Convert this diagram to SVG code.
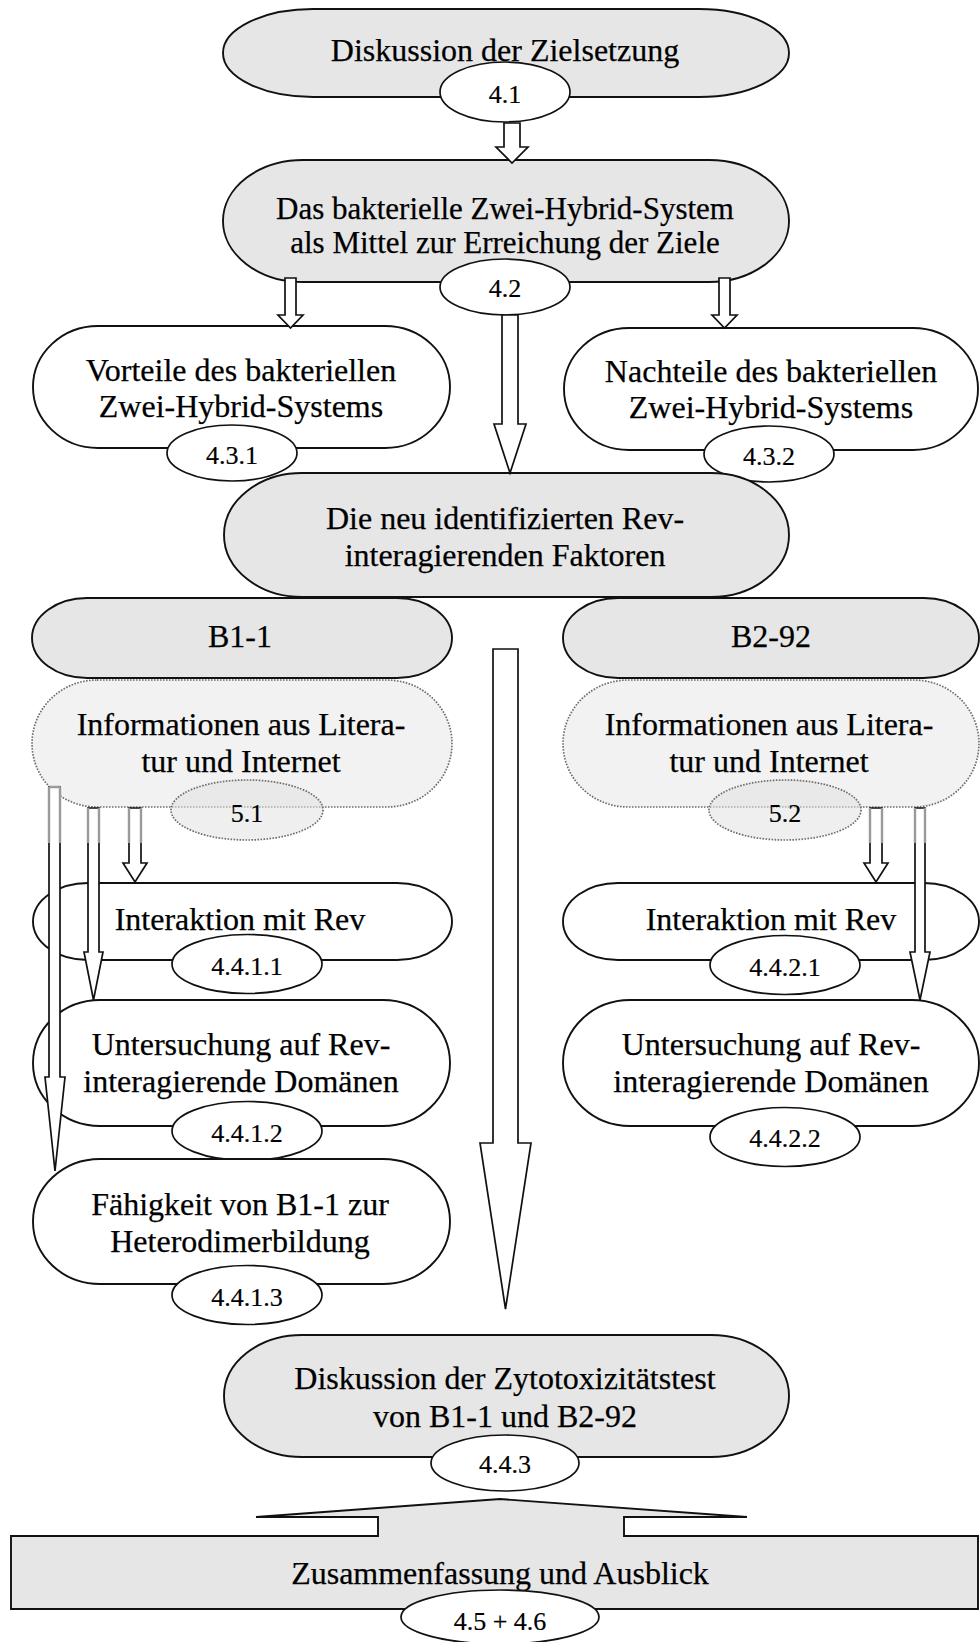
<svg xmlns="http://www.w3.org/2000/svg" width="980" height="1642" viewBox="0 0 980 1642">
<defs>
<style>
.t{font-family:"Liberation Serif","Times New Roman",serif;font-size:32px;fill:#000;stroke:#000;stroke-width:0.25;text-anchor:middle}
.s{font-size:31px}
.n{font-family:"Liberation Serif","Times New Roman",serif;font-size:26px;fill:#000;stroke:#000;stroke-width:0.2;text-anchor:middle}
.g{fill:#e6e6e6;stroke:#111;stroke-width:1.9}
.w{fill:#fff;stroke:#111;stroke-width:1.9}
.d{fill:#f2f2f2;stroke:#6e6e6e;stroke-width:1.7;stroke-dasharray:1.6 1.4}
.lab{fill:#fff;stroke:#111;stroke-width:1.7}
.dl{fill:#e2e2e2;fill-opacity:.55;stroke:#6e6e6e;stroke-width:1.7;stroke-dasharray:1.6 1.4}
.ar{fill:#fff;stroke:#111;stroke-width:1.7;stroke-linejoin:miter}
.fade{stroke:#9a9a9a;stroke-width:2.4}
</style>
</defs>
<rect width="980" height="1642" fill="#fff"/>

<g id="n-zielsetzung">
<rect class="g" x="223" y="9" width="566" height="88" rx="90" ry="44"/>
<text class="t" x="505" y="61">Diskussion der Zielsetzung</text>
<ellipse class="lab" cx="505" cy="92" rx="65" ry="30"/>
<text class="n" x="505" y="103">4.1</text>
</g>

<g id="n-system">
<rect class="g" x="223" y="160" width="566" height="122" rx="80" ry="61"/>
<text class="t s" x="505" y="219">Das bakterielle Zwei-Hybrid-System</text>
<text class="t s" x="505" y="253">als Mittel zur Erreichung der Ziele</text>
<ellipse class="lab" cx="505" cy="287" rx="65" ry="28"/>
<text class="n" x="505" y="297">4.2</text>
</g>

<g id="n-vorteile">
<rect class="w" x="33" y="326" width="417" height="122" rx="65" ry="61"/>
<text class="t" x="241" y="381">Vorteile des bakteriellen</text>
<text class="t" x="241" y="417">Zwei-Hybrid-Systems</text>
<ellipse class="lab" cx="232" cy="453" rx="65" ry="28"/>
<text class="n" x="232" y="464">4.3.1</text>
</g>

<g id="n-nachteile">
<rect class="w" x="564" y="328" width="414" height="122" rx="65" ry="61"/>
<text class="t" x="771" y="382">Nachteile des bakteriellen</text>
<text class="t" x="771" y="418">Zwei-Hybrid-Systems</text>
<ellipse class="lab" cx="769" cy="454" rx="65" ry="28"/>
<text class="n" x="769" y="465">4.3.2</text>
</g>

<g id="n-faktoren">
<rect class="g" x="224" y="473" width="565" height="124" rx="78" ry="62"/>
<text class="t" x="505" y="529">Die neu identifizierten Rev-</text>
<text class="t" x="505" y="566">interagierenden Faktoren</text>
</g>

<g id="n-b1">
<rect class="g" x="32" y="598" width="420" height="80" rx="55" ry="40"/>
<text class="t" x="240" y="647">B1-1</text>
</g>

<g id="n-b2">
<rect class="g" x="563" y="598" width="416" height="80" rx="55" ry="40"/>
<text class="t" x="771" y="647">B2-92</text>
</g>

<g id="n-info1">
<rect class="d" x="32" y="680" width="420" height="127" rx="65" ry="63.5"/>
<text class="t" x="241" y="735">Informationen aus Litera-</text>
<text class="t" x="241" y="772">tur und Internet</text>
<ellipse class="dl" cx="247" cy="810" rx="76" ry="30"/>
<text class="n" x="247" y="822">5.1</text>
</g>

<g id="n-info2">
<rect class="d" x="563" y="680" width="416" height="127" rx="65" ry="63.5"/>
<text class="t" x="769" y="735">Informationen aus Litera-</text>
<text class="t" x="769" y="772">tur und Internet</text>
<ellipse class="dl" cx="785" cy="810" rx="76" ry="30"/>
<text class="n" x="785" y="822">5.2</text>
</g>

<g id="n-interaktion1">
<rect class="w" x="33" y="883" width="419" height="77" rx="55" ry="38.5"/>
<text class="t" x="240" y="930">Interaktion mit Rev</text>
<ellipse class="lab" cx="247" cy="964" rx="75" ry="29.5"/>
<text class="n" x="247" y="975">4.4.1.1</text>
</g>

<g id="n-domaenen1">
<rect class="w" x="33" y="1000" width="417" height="126" rx="67" ry="63"/>
<text class="t" x="241" y="1055">Untersuchung auf Rev-</text>
<text class="t" x="241" y="1092">interagierende Domänen</text>
<ellipse class="lab" cx="247" cy="1131" rx="75" ry="29.5"/>
<text class="n" x="247" y="1142">4.4.1.2</text>
</g>

<g id="n-heterodimer">
<rect class="w" x="33" y="1159" width="417" height="125" rx="67" ry="62.5"/>
<text class="t" x="240" y="1215">Fähigkeit von B1-1 zur</text>
<text class="t" x="240" y="1252">Heterodimerbildung</text>
<ellipse class="lab" cx="247" cy="1295" rx="75" ry="29.5"/>
<text class="n" x="247" y="1306">4.4.1.3</text>
</g>

<g id="n-interaktion2">
<rect class="w" x="563" y="883" width="416" height="77" rx="55" ry="38.5"/>
<text class="t" x="771" y="930">Interaktion mit Rev</text>
<ellipse class="lab" cx="785" cy="965" rx="75" ry="29.5"/>
<text class="n" x="785" y="976">4.4.2.1</text>
</g>

<g id="n-domaenen2">
<rect class="w" x="563" y="1000" width="416" height="126" rx="67" ry="63"/>
<text class="t" x="771" y="1055">Untersuchung auf Rev-</text>
<text class="t" x="771" y="1092">interagierende Domänen</text>
<ellipse class="lab" cx="785" cy="1137" rx="75" ry="29.5"/>
<text class="n" x="785" y="1147">4.4.2.2</text>
</g>

<g id="n-zytotox">
<rect class="g" x="224" y="1335" width="565" height="122" rx="78" ry="61"/>
<text class="t" x="505" y="1389">Diskussion der Zytotoxizitätstest</text>
<text class="t" x="505" y="1427">von B1-1 und B2-92</text>
<ellipse class="lab" cx="505" cy="1463" rx="74" ry="28"/>
<text class="n" x="505" y="1473">4.4.3</text>
</g>

<g id="n-ausblick">
<path class="g" d="M11,1536 H378 V1517 H256 L500,1499 L747,1517 H624 V1536 H978 V1609 H11 Z"/>
<text class="t" x="500" y="1584">Zusammenfassung und Ausblick</text>
<ellipse class="lab" cx="500" cy="1617" rx="99" ry="27"/>
<text class="n" x="500" y="1630">4.5 + 4.6</text>
</g>

<g id="connectors">
<!-- block arrows: shaft, shoulders, tip -->
<polygon class="ar" points="504,123 520,123 520,147 528,147 512,163 496,147 504,147"/>
<polygon class="ar" points="285,278 296,278 296,315 303,315 290.5,328 278,315 285,315"/>
<polygon class="ar" points="719,278 730,278 730,315 737,315 724.5,328 712,315 719,315"/>
<polygon class="ar" points="502,315 518,315 518,424 526,424 510,473 494,424 502,424"/>
<polygon class="ar" points="493,649 518,649 518,1143 531,1143 505.5,1309 480,1143 493,1143"/>
<polygon class="ar" points="129,808 141,808 141,863 147,863 135,882 123,863 129,863"/>
<polygon class="ar" points="88,808 99,808 99,952 103,952 93.5,1000 84,952 88,952"/>
<polygon class="ar" points="49,787 60,787 60,1077 65,1077 55,1171 45,1077 49,1077"/>
<polygon class="ar" points="870,808 882,808 882,863 888,863 876,882 864,863 870,863"/>
<polygon class="ar" points="915,808 925,808 925,952 930,952 920,1000 910,952 915,952"/>
<!-- softened upper shaft edges below the information boxes -->
<path class="fade" d="M49,787 V843 M60,787 V843 M49,787 H60 M88,808 V843 M99,808 V843 M129,808 V843 M141,808 V843 M870,808 V843 M882,808 V843 M915,808 V843 M925,808 V843"/>
</g>
</svg>
